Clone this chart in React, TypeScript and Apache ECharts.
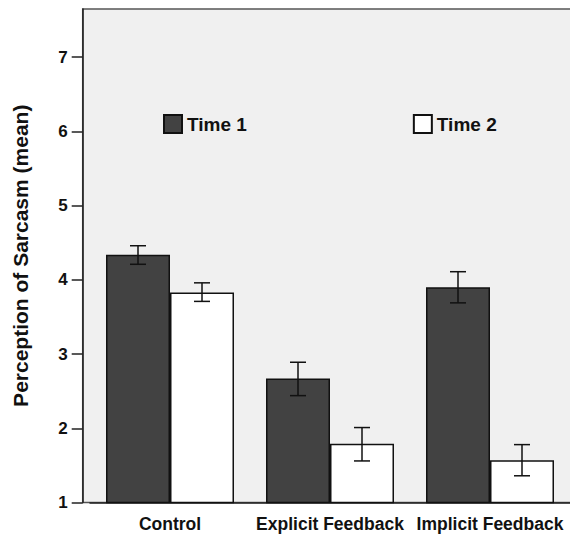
import React, { useEffect, useRef } from "react";
import * as echarts from "echarts";

const categories = ["Control", "Explicit Feedback", "Implicit Feedback"];
const time1Means = [4.34, 2.67, 3.9];
const time1Low = [4.21, 2.44, 3.69];
const time1High = [4.46, 2.89, 4.11];
const time2Means = [3.83, 1.79, 1.57];
const time2Low = [3.71, 1.56, 1.36];
const time2High = [3.96, 2.01, 1.78];
const yTicks = [1, 2, 3, 4, 5, 6, 7];

const FONT = "'Liberation Sans', Arial, sans-serif";

function errorSeries(low: number[], high: number[], side: number) {
  return {
    type: "custom",
    silent: true,
    z: 5,
    data: low.map((l, i) => [i, l, high[i]]),
    renderItem: (params: any, api: any) => {
      const x = api.value(0);
      const lo = api.value(1);
      const hi = api.value(2);
      const band = api.size([1, 0])[0];
      const pLo = api.coord([x, lo]);
      const pHi = api.coord([x, hi]);
      const cx = pLo[0] + side * band * 0.2;
      const half = 8;
      const style = { stroke: "#111", lineWidth: 1.5 };
      return {
        type: "group",
        children: [
          { type: "line", shape: { x1: cx, y1: pHi[1], x2: cx, y2: pLo[1] }, style },
          { type: "line", shape: { x1: cx - half, y1: pHi[1], x2: cx + half, y2: pHi[1] }, style },
          { type: "line", shape: { x1: cx - half, y1: pLo[1], x2: cx + half, y2: pLo[1] }, style },
        ],
      };
    },
  };
}

export default function App() {
  const ref = useRef<HTMLDivElement>(null);
  useEffect(() => {
    if (!ref.current) return;
    const chart = echarts.init(ref.current, null, { renderer: "svg" });
    chart.setOption({
      animation: false,
      backgroundColor: "#ffffff",
      textStyle: { fontFamily: FONT },
      graphic: [
        {
          type: "rect",
          z: -10,
          shape: { x: 82.7, y: 9, width: 500, height: 493.5 },
          style: { fill: "#f0f0f0", stroke: "#555", lineWidth: 1.5 },
        },
      ],
      legend: {
        data: ["Time 1", "Time 2"],
        left: 163,
        top: 114,
        padding: 0,
        icon: "rect",
        itemWidth: 18,
        itemHeight: 18,
        itemGap: 166,
        textStyle: { fontSize: 19, fontWeight: "bold", color: "#111", fontFamily: FONT },
      },
      grid: { left: 90, top: 9, width: 482, height: 493.5 },
      xAxis: {
        type: "category",
        data: categories,
        axisLine: { lineStyle: { color: "#222", width: 1.5 } },
        axisTick: { alignWithLabel: true, length: 10, lineStyle: { color: "#222", width: 1.5 } },
        axisLabel: {
          interval: 0,
          hideOverlap: false,
          fontSize: 17.5,
          fontWeight: "bold",
          color: "#111",
          margin: 12,
          fontFamily: FONT,
        },
      },
      yAxis: {
        type: "value",
        min: 1,
        max: 7.65,
        interval: 1,
        offset: 7.3,
        name: "Perception of Sarcasm (mean)",
        nameLocation: "middle",
        nameGap: 52,
        nameTextStyle: { fontSize: 21, fontWeight: "bold", color: "#111", fontFamily: FONT },
        axisLine: { show: true, lineStyle: { color: "#222", width: 1.5 } },
        axisTick: { show: true, length: 11, customValues: yTicks, lineStyle: { color: "#222", width: 1.5 } },
        axisLabel: {
          fontSize: 17,
          fontWeight: "bold",
          color: "#111",
          margin: 15,
          fontFamily: FONT,
          showMaxLabel: false,
          formatter: (v: number) => (yTicks.indexOf(v) >= 0 ? String(v) : ""),
        },
        splitLine: { show: false },
      },
      series: [
        {
          name: "Time 1",
          type: "bar",
          data: time1Means,
          barGap: "0%",
          barCategoryGap: "20%",
          itemStyle: { color: "#424242", borderColor: "#111", borderWidth: 1.5 },
        },
        {
          name: "Time 2",
          type: "bar",
          data: time2Means,
          barGap: "0%",
          barCategoryGap: "20%",
          itemStyle: { color: "#ffffff", borderColor: "#111", borderWidth: 1.5 },
        },
        errorSeries(time1Low, time1High, -1),
        errorSeries(time2Low, time2High, 1),
      ],
    });
    return () => chart.dispose();
  }, []);
  return (
    <div
      ref={ref}
      style={{ position: "fixed", left: 0, top: 0, width: 570, height: 535 }}
    />
  );
}
